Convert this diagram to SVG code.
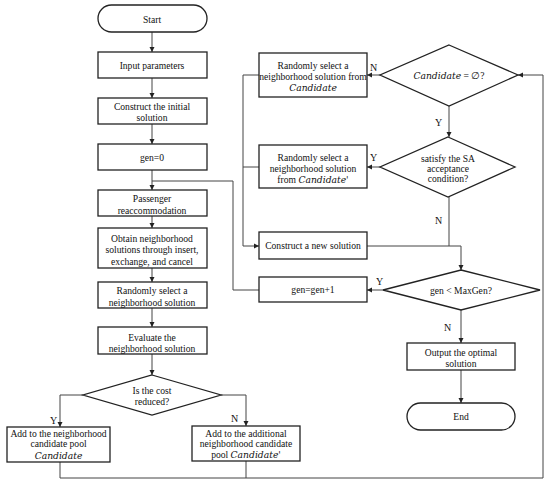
<svg xmlns="http://www.w3.org/2000/svg" width="550" height="485" viewBox="0 0 550 485">
<defs>
<marker id="ah" markerUnits="userSpaceOnUse" markerWidth="6" markerHeight="6" refX="5" refY="3" orient="auto">
<path d="M0,0.5 L5,3 L0,5.5 Z" fill="#222"/>
</marker>
<style>
.b{fill:#fff;stroke:#222;stroke-width:1.3}
.c{fill:none;stroke:#444;stroke-width:1}
.t{font-family:"Liberation Serif","Times New Roman",serif;font-size:9.6px;fill:#111;text-anchor:middle}
.m{font-family:"DejaVu Serif","Liberation Serif",serif;font-style:italic;font-size:9.2px}
.l{font-family:"Liberation Serif","Times New Roman",serif;font-size:10px;fill:#111}
</style>
</defs>
<rect width="550" height="485" fill="#fff"/>
<g id="connectors">
<path class="c" d="M152,32 V52" marker-end="url(#ah)"/>
<path class="c" d="M152,78 V98" marker-end="url(#ah)"/>
<path class="c" d="M152,124 V144" marker-end="url(#ah)"/>
<path class="c" d="M152,170 V190" marker-end="url(#ah)"/>
<path class="c" d="M152,216 V228" marker-end="url(#ah)"/>
<path class="c" d="M152,268 V282" marker-end="url(#ah)"/>
<path class="c" d="M152,308 V327" marker-end="url(#ah)"/>
<path class="c" d="M152,354 V375" marker-end="url(#ah)"/>
<path class="c" d="M83,395 H60 V427" marker-end="url(#ah)"/>
<path class="c" d="M221,395 H246 V426" marker-end="url(#ah)"/>
<path class="c" d="M60,462 V478 H543 V75 H518" marker-end="url(#ah)"/>
<path class="c" d="M246,461 V478"/>
<path class="c" d="M380,75 H367" marker-end="url(#ah)"/>
<path class="c" d="M449,106 V137" marker-end="url(#ah)"/>
<path class="c" d="M380,167 H367" marker-end="url(#ah)"/>
<path class="c" d="M259,75 H243 V246 H259" marker-end="url(#ah)"/>
<path class="c" d="M259,167 H243"/>
<path class="c" d="M449,197 V246"/>
<path class="c" d="M367,246 H461 V270" marker-end="url(#ah)"/>
<path class="c" d="M383,290 H367" marker-end="url(#ah)"/>
<path class="c" d="M259,290 H233 V181 H152"/>
<path class="c" d="M461,310 V343" marker-end="url(#ah)"/>
<path class="c" d="M461,370 V403" marker-end="url(#ah)"/>
<text class="l" x="50" y="424">Y</text>
<text class="l" x="231" y="422">N</text>
<text class="l" x="370" y="71">N</text>
<text class="l" x="370" y="161">Y</text>
<text class="l" x="435" y="126">Y</text>
<text class="l" x="435" y="224">N</text>
<text class="l" x="376" y="285">Y</text>
<text class="l" x="444" y="331">N</text>
</g>
<g id="start"><rect class="b" x="98" y="5" width="109" height="27" rx="13.5"/><text class="t" x="152" y="22.5">Start</text></g>
<g id="input"><rect class="b" x="98" y="52" width="109" height="26"/><text class="t" x="152" y="68.5">Input parameters</text></g>
<g id="construct-initial"><rect class="b" x="98" y="98" width="109" height="26"/><text class="t" x="152" y="109.5">Construct the initial</text><text class="t" x="152" y="121">solution</text></g>
<g id="gen0"><rect class="b" x="98" y="144" width="109" height="26"/><text class="t" x="152" y="160.5">gen=0</text></g>
<g id="passenger"><rect class="b" x="98" y="190" width="109" height="26"/><text class="t" x="152" y="201.5">Passenger</text><text class="t" x="152" y="213.5">reaccommodation</text></g>
<g id="obtain"><rect class="b" x="98" y="228" width="109" height="40"/><text class="t" x="152" y="241.5">Obtain neighborhood</text><text class="t" x="152" y="252.5">solutions through insert,</text><text class="t" x="152" y="264.5">exchange, and cancel</text></g>
<g id="random-select"><rect class="b" x="98" y="282" width="109" height="26"/><text class="t" x="152" y="293.5">Randomly select a</text><text class="t" x="152" y="305.5">neighborhood solution</text></g>
<g id="evaluate"><rect class="b" x="98" y="327" width="109" height="27"/><text class="t" x="152" y="340.5">Evaluate the</text><text class="t" x="152" y="351.5">neighborhood solution</text></g>
<g id="cost-reduced"><polygon class="b" points="152,375 221,395 152,415 83,395"/><text class="t" x="152" y="393.5">Is the cost</text><text class="t" x="152" y="404.5">reduced?</text></g>
<g id="add-candidate"><rect class="b" x="7" y="427" width="103" height="35"/><text class="t" x="58.5" y="436.5">Add to the neighborhood</text><text class="t" x="58.5" y="446.5">candidate pool</text><text class="t m" x="58.5" y="458.5">Candidate</text></g>
<g id="add-additional"><rect class="b" x="192" y="426" width="108" height="35"/><text class="t" x="246" y="436.5">Add to the additional</text><text class="t" x="246" y="446.5">neighborhood candidate</text><text class="t" x="246" y="457.5">pool <tspan class="m">Candidate'</tspan></text></g>
<g id="select-candidate"><rect class="b" x="259" y="53" width="108" height="44"/><text class="t" x="313" y="68.5">Randomly select a</text><text class="t" x="313" y="79.5">neighborhood solution from</text><text class="t m" x="313" y="90.5">Candidate</text></g>
<g id="candidate-empty"><polygon class="b" points="449,45 518,75 449,106 380,75"/><text class="t" x="449" y="78.5"><tspan class="m">Candidate</tspan> = ∅?</text></g>
<g id="select-candidate-prime"><rect class="b" x="259" y="145" width="108" height="43"/><text class="t" x="313" y="160.5">Randomly select a</text><text class="t" x="313" y="171.5">neighborhood solution</text><text class="t" x="313" y="182.5">from <tspan class="m">Candidate'</tspan></text></g>
<g id="sa-condition"><polygon class="b" points="448,137 515,167 448,197 380,167"/><text class="t" x="448" y="161.5">satisfy the SA</text><text class="t" x="448" y="171.5">acceptance</text><text class="t" x="448" y="181.5">condition?</text></g>
<g id="construct-new"><rect class="b" x="259" y="232" width="108" height="27"/><text class="t" x="313" y="249">Construct a new solution</text></g>
<g id="gen-inc"><rect class="b" x="259" y="277" width="108" height="25"/><text class="t" x="313" y="293">gen=gen+1</text></g>
<g id="maxgen"><polygon class="b" points="461,270 540,290 461,310 383,290"/><text class="t" x="461" y="293.5">gen &lt; MaxGen?</text></g>
<g id="output"><rect class="b" x="407" y="343" width="108" height="27"/><text class="t" x="461" y="355.5">Output the optimal</text><text class="t" x="461" y="366.5">solution</text></g>
<g id="end"><rect class="b" x="407" y="403" width="108" height="27" rx="13.5"/><text class="t" x="461" y="420">End</text></g>
</svg>
